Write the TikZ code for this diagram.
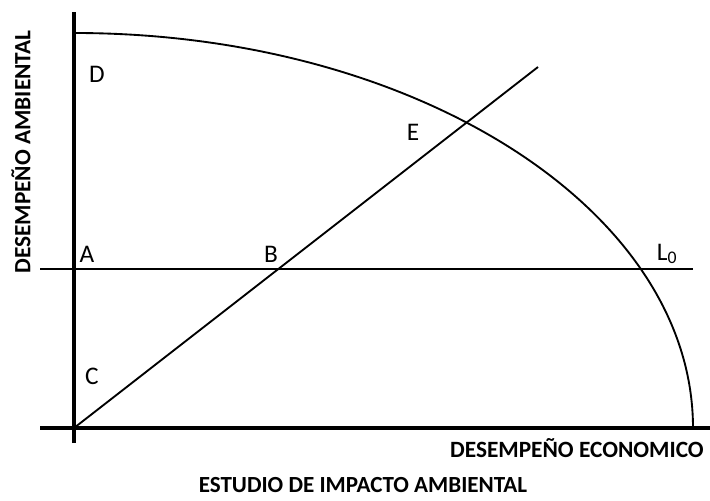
\documentclass[tikz,border=0pt]{standalone}
\usepackage{fontspec}
\setmainfont{Carlito}
\begin{document}
\begin{tikzpicture}[x=0.75pt,y=0.75pt,
  axis/.style={line width=3pt},
  thinline/.style={line width=1.4pt},
  ptlabel/.style={font=\fontsize{19}{22}\selectfont, inner sep=0pt},
  axlabel/.style={font=\bfseries\fontsize{17.5}{20}\selectfont, inner sep=0pt},
  titlelabel/.style={font=\bfseries\fontsize{17.3}{20}\selectfont, inner sep=0pt}]
\useasboundingbox (0,0) rectangle (710,500);
\coordinate (O) at (74,72);
\coordinate (ytop) at (74,488);
\coordinate (ybot) at (74,57);
\coordinate (xl) at (40,72);
\coordinate (xr) at (710,72);
\coordinate (hl) at (40,231);
\coordinate (hr) at (693,231);
\coordinate (dend) at (538,433);
\coordinate (ctop) at (74,467);
\draw[axis] (ybot) -- (ytop);
\draw[axis] (xl) -- (xr);
\draw[thinline] (hl) -- (hr);
\draw[thinline] (O) -- (dend);
\draw[thinline] (ctop) arc[start angle=90, end angle=0, x radius=464.25pt, y radius=296.25pt] coordinate (cend);
\node[ptlabel] (D) at (97,426) {D};
\node[ptlabel] (A) at (87,246) {A};
\node[ptlabel] (B) at (271,246) {B};
\node[ptlabel] (C) at (92,124) {C};
\node[ptlabel] (E) at (413,368) {E};
\node[ptlabel] (L) at (667,246) {L\textsubscript{0}};
\node[axlabel, anchor=east] (xlab) at (704,52) {DESEMPEÑO ECONOMICO};
\node[titlelabel] (title) at (363,15) {ESTUDIO DE IMPACTO AMBIENTAL};
\node[axlabel, rotate=90] (ylab) at (21,348) {DESEMPEÑO AMBIENTAL};
\end{tikzpicture}
\end{document}
